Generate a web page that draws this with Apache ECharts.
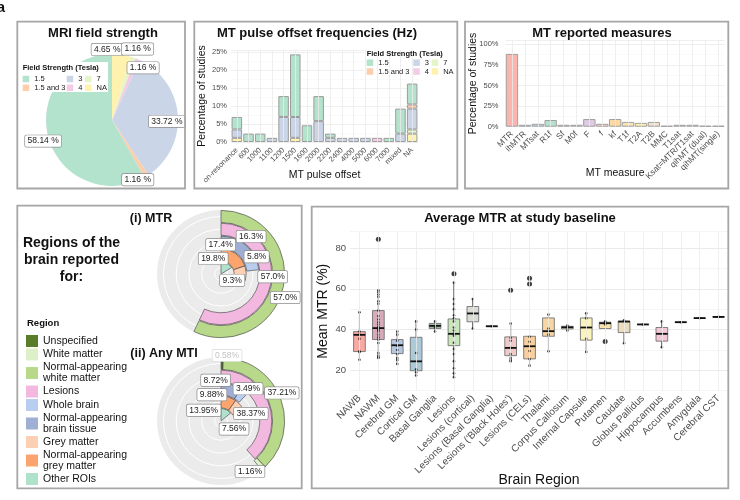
<!DOCTYPE html>
<html>
<head>
<meta charset="utf-8">
<title>MT imaging review</title>
<script src="https://cdn.jsdelivr.net/npm/echarts@6.0.0/dist/echarts.min.js"></script>
<style>
  html, body { margin: 0; padding: 0; background: #fff; }
  #chart { width: 740px; height: 500px; }
</style>
</head>
<body>
<div id="chart"></div>
<script>
var FONT = '"Liberation Sans", Arial, Helvetica, sans-serif';

// ---- A: MRI field strength, % of studies (clockwise from 12 o'clock)
var fieldNames = ['NA', '7', '4', '3', '1.5 and 3', '1.5'];
var fieldShare = [4.65, 1.16, 1.16, 33.72, 1.16, 58.14];

// ---- B: MT pulse offset (Hz), % of studies by field strength
var offsetCats = ['on-resonance', '600', '1000', '1100', '1200', '1500', '1600', '2000',
                  '2200', '2400', '4000', '5000', '6000', '7000', 'mixed', 'NA'];
var off15      = [3.49, 2.33, 2.33, 0, 5.81, 17.44, 4.65, 6.98, 1.16, 0, 0, 0, 0, 1.16, 6.98, 5.81];
var off15and3  = [0, 0, 0, 0, 0, 0, 0, 0, 0, 0, 0, 0, 0, 0, 0, 1.16];
var off3       = [2.33, 0, 0, 1.16, 6.98, 5.81, 0, 5.81, 1.16, 1.16, 1.16, 1.16, 0, 0, 2.33, 5.81];
var off4       = [0, 0, 0, 0, 0, 0, 0, 0, 0, 0, 0, 0, 1.16, 0, 0, 0];
var off7       = [0, 0, 0, 0, 0, 0, 0, 0, 0, 0, 0, 0, 0, 0, 0, 1.16];
var offNA      = [1.16, 0, 0, 0, 0, 1.16, 0, 0, 0, 0, 0, 0, 0, 0, 0, 2.33];

// ---- C: MT reported measures, % of studies
var measureCats = ['MTR', 'ihMTR', 'MTsat', 'R1f', 'Sf', 'M0f', 'F', 'f', 'kf', 'T1f', 'T2A', 'T2B',
                   'MMC', 'T1sat', 'Ksat=MTR/T1sat', 'qihMT (dual)', 'qihMT(single)'];
var measureShare = [88.37, 2.33, 3.49, 8.14, 2.33, 2.33, 9.30, 3.49, 9.30, 5.81, 4.65, 5.81,
                    1.16, 2.33, 2.33, 1.16, 1.16];

// ---- D: regions of the brain reported, % of studies
var regionNames = ['Unspecified', 'White matter', 'Normal-appearing white matter', 'Lesions',
                   'Whole brain', 'Normal-appearing brain tissue', 'Grey matter',
                   'Normal-appearing grey matter', 'Other ROIs'];
var ringCats = ['Other ROIs', 'Grey', 'Brain', 'Lesions', 'White'];   // inner -> outer
var regionRing = [4, 4, 4, 3, 2, 2, 1, 1, 0];
var mtrShare    = [0, 0, 57.0, 57.0, 5.8, 17.4, 9.3, 19.8, 16.3];
var anyMtiShare = [0.58, 1.16, 37.21, 38.37, 3.49, 8.72, 7.56, 9.88, 13.95];

// ---- E: average MTR at study baseline
var brainCats = ['NAWB', 'NAWM', 'Cerebral GM', 'Cortical GM', 'Basal Ganglia', 'Lesions',
                 'Lesions (cortical)', 'Lesions (Basal Ganglia)', "Lesions ('Black Holes')",
                 'Lesions (CELs)', 'Thalami', 'Corpus Callosum', 'Internal Capsule', 'Putamen',
                 'Caudate', 'Globus Pallidus', 'Hippocampus', 'Accumbens', 'Amygdala', 'Cerebral CST'];
var whiskerLow  = [25.2, 26.1, 23.1, 17.4, 38.9, 16.6, 40.3, 41.6, 24.4, 22.3, 29.3, 39.0, 29.0, 40.5, 33.3, 42.5, 31.3, 43.6, 45.6, 46.2];
var boxQ1       = [29.2, 35.1, 28.2, 19.8, 40.5, 32.1, 43.8, 41.6, 27.2, 25.6, 36.7, 40.3, 34.8, 40.5, 38.5, 42.5, 34.3, 43.6, 45.6, 46.2];
var boxMedian   = [37.4, 40.7, 32.3, 24.4, 41.8, 37.9, 47.9, 41.6, 31.0, 31.8, 39.2, 41.1, 41.0, 43.1, 43.9, 42.5, 37.9, 43.6, 45.6, 46.2];
var boxQ3       = [39.0, 49.3, 35.1, 36.2, 43.0, 45.2, 51.3, 41.6, 36.4, 36.7, 45.7, 41.6, 45.7, 43.6, 44.1, 42.5, 41.0, 43.6, 45.6, 46.2];
var whiskerHigh = [48.9, 59.3, 39.2, 44.6, 44.4, 63.3, 55.2, 41.6, 43.3, 37.0, 47.4, 42.1, 48.4, 44.1, 44.6, 42.5, 44.1, 43.6, 45.6, 46.2];
var mtrPoints = [
  [48.5, 39.0, 37.5, 35.5, 29.3, 29.0, 25.2],
  [59.3, 58.4, 57.2, 56.1, 53.9, 52.6, 49.3, 46.6, 44.9, 43.6, 42.5, 41.3, 40.8, 40.3, 39.7, 38.9, 37.5, 36.2, 35.1, 33.4, 28.5, 27.2, 26.4, 26.1],
  [39.0, 37.5, 34.5, 32.0, 30.0, 28.0, 26.0, 25.0, 23.1],
  [44.0, 40.0, 28.5, 20.5, 19.0, 17.4],
  [44.0, 41.0, 39.0],
  [63.0, 55.0, 52.5, 50.0, 47.0, 45.5, 44.0, 41.0, 39.5, 38.0, 37.0, 33.5, 30.5, 28.0, 24.5, 21.0, 18.5, 16.6],
  [55.0, 40.5],
  [41.6],
  [43.0, 36.0, 34.5, 31.0, 28.0, 26.0, 25.0, 24.4],
  [36.5, 34.0, 29.5, 25.5, 22.3],
  [47.4, 40.5, 37.5, 29.3],
  [42.0, 41.0, 39.5],
  [48.0, 45.5, 35.5, 29.0],
  [44.0, 43.5, 42.5],
  [44.5, 33.3],
  [42.5],
  [44.0, 31.3],
  [43.6],
  [45.6],
  [46.2]
];
var mtrOutliers = [['NAWM', 84.3], ['Lesions', 67.4], ["Lesions ('Black Holes')", 59.3],
                   ['Lesions (CELs)', 65.2], ['Lesions (CELs)', 62.3], ['Putamen', 34.1]];

// ---- styles
var fieldColors = {'1.5': '#b3e2cd', '1.5 and 3': '#fdcdac', '3': '#cbd5e8',
                   '4': '#f4cae4', '7': '#e6f5c9', 'NA': '#fff2ae'};
var measureColors = ['#fbb4ae', '#e3d3e6', '#c5d6ea', '#b3e2cd', '#d6ecc8', '#e0dbe8', '#decbe4', '#fcd3c3',
                     '#fed9a6', '#fde4b3', '#fff2ae', '#f1e2cc', '#eeeeee', '#f4d3e3', '#f6dbe4', '#e3e3e3', '#dddddd'];
var regionColors = ['#5a7d2c', '#def0c8', '#b8d98a', '#f3b8df', '#b9cdf1', '#9eaed4', '#fdd0b3', '#fba46e', '#b0e2cb'];
var brainColors = ['#f7aaa3', '#d9a9b9', '#b6c6dc', '#a9cad6', '#a3b8a0', '#c9e7bb', '#d9ddd6', '#cccccc', '#f0c9c9', '#f8cfa0',
                   '#f9d5a2', '#f3ecd0', '#fbf3b9', '#f9e3ad', '#eadcbc', '#dddddd', '#f3c7d5', '#dddddd', '#dddddd', '#dddddd'];
var stackOrder = [0, 2, 1, 3, 5, 4, 7, 6, 8];   // clockwise order inside each ring
var pieNudge = [[-10, -35], [14, -37], [17, -19], [19, 4], [7, 29], [-34, 12]];
var mtrNudge = [[0, 0], [0, 0], [8, 11], [8, -7], [5, -8], [-17, -2], [-8, 7], [-19, 0], [27, -32]];
var anyMtiNudge = [[5, -8], [-9.5, 7.5], [7, -7.5], [-12, 8.5], [7.5, -7], [-14, -10], [-1.5, 20.5], [-15, -8], [-20, -5]];

var GRID_LINE = '#ebebeb';
var labelBox = {fontFamily: FONT, fontSize: 8.5, color: '#222', backgroundColor: '#fff',
                borderColor: '#8a8a8a', borderWidth: 0.7, borderRadius: 1.5, padding: [1.5, 2.5, 1, 2.5]};

function nz(arr) {
  return arr.map(function (v) { return v > 0 ? v : '-'; });
}

function txt(s, x, y, size, bold, align, extra) {
  var style = {text: s, fontFamily: FONT, fontSize: size, fontWeight: bold ? 'bold' : 'normal',
               fill: '#111', align: align || 'center', verticalAlign: 'middle',
               textAlign: align || 'center', textVerticalAlign: 'middle'};
  for (var k in (extra || {})) style[k] = extra[k];
  return {type: 'text', x: x, y: y, z: 20, style: style, silent: true};
}

function box(x, y, w, h) {
  return {type: 'rect', shape: {x: x, y: y, width: w, height: h}, z: 20, silent: true,
          style: {fill: 'none', stroke: '#a6a6a6', lineWidth: 1.8}};
}

function fieldLegend(names, left, top, z) {
  return {data: names, orient: 'vertical', left: left, top: top, itemWidth: 6.5, itemHeight: 6.5,
          itemGap: 0.8, padding: 0, icon: 'rect', selectedMode: false, z: z,
          itemStyle: {borderWidth: 0},
          textStyle: {fontFamily: FONT, fontSize: 7.5, lineHeight: 7.5, color: '#222'}};
}

function vGrid(axisIndex, cats) {
  return {type: 'line', xAxisIndex: axisIndex, yAxisIndex: axisIndex, data: [], z: 1, silent: true,
          markLine: {silent: true, symbol: 'none', label: {show: false}, animation: false,
                     lineStyle: {color: GRID_LINE, width: 0.8, type: 'solid'},
                     data: cats.map(function (c) { return {xAxis: c}; })}};
}

function catAxis(gi, cats, fs, margin, name, gap) {
  return {gridIndex: gi, type: 'category', data: cats, boundaryGap: true,
          axisLine: {show: false}, axisTick: {show: false}, splitLine: {show: false},
          axisLabel: {rotate: 45, interval: 0, fontSize: fs, color: '#4d4d4d', margin: margin, fontFamily: FONT},
          name: name, nameLocation: 'middle', nameGap: gap, nameMoveOverlap: false,
          nameTextStyle: {fontSize: gi === 2 ? 14 : 10.5, color: '#111', fontFamily: FONT}};
}

function valAxis(gi, min, max, interval, step, fmt, name, gap, fs, margin, colors) {
  return {gridIndex: gi, type: 'value', min: min, max: max, interval: interval,
          axisLine: {show: false}, axisTick: {show: false},
          axisLabel: {fontSize: fs, color: '#4d4d4d', margin: margin, fontFamily: FONT,
                      formatter: function (v) { return v % step === 0 ? fmt(v) : ''; }},
          splitLine: {lineStyle: {color: colors || GRID_LINE, width: 0.8}},
          minorTick: {show: false, splitNumber: 2},
          minorSplitLine: {show: !colors, lineStyle: {color: '#f4f4f4', width: 0.5}},
          name: name, nameLocation: 'middle', nameGap: gap, nameMoveOverlap: false,
          nameTextStyle: {fontSize: gi === 2 ? 14 : 10.5, color: '#111', fontFamily: FONT}};
}

function regionSeries(share, polarIndex, stack, digits, nudge) {
  return stackOrder.map(function (r) {
    var data = ringCats.map(function (c, k) {
      return (k === regionRing[r] && share[r] > 0) ? share[r] : '-';
    });
    var lbl = {show: true, position: 'middle', rotate: 0,
               formatter: function (p) { return p.value.toFixed(digits) + '%'; }};
    for (var k in labelBox) lbl[k] = labelBox[k];
    if (r === 0) { lbl.color = '#c4c4c4'; lbl.borderColor = '#d8d8d8'; }
    return {type: 'bar', coordinateSystem: 'polar', polarIndex: polarIndex, stack: stack,
            name: regionNames[r], data: data, barCategoryGap: '6%', z: 3,
            itemStyle: {color: regionColors[r], borderColor: '#3d3d3d', borderWidth: 0.6},
            label: lbl, labelLayout: {dx: nudge[r][0], dy: nudge[r][1], rotate: 0}};
  });
}

function renderBox(params, api) {
  var i = api.value(0);
  var lo = api.coord([i, api.value(1)]);
  var b1 = api.coord([i, api.value(2)]);
  var md = api.coord([i, api.value(3)]);
  var b3 = api.coord([i, api.value(4)]);
  var hi = api.coord([i, api.value(5)]);
  var w = api.size([1, 0])[0] * 0.62;
  var x = lo[0];
  return {type: 'group', children: [
    {type: 'line', shape: {x1: x, y1: hi[1], x2: x, y2: lo[1]}, style: {stroke: '#333', lineWidth: 1}},
    {type: 'rect', shape: {x: x - w / 2, y: b3[1], width: w, height: b1[1] - b3[1]},
     style: {fill: brainColors[params.dataIndex], stroke: '#666', lineWidth: 0.8}},
    {type: 'line', shape: {x1: x - w / 2, y1: md[1], x2: x + w / 2, y2: md[1]}, style: {stroke: '#111', lineWidth: 1.8}}
  ]};
}

// ---------- series ----------
var series = [];

var pieLabel = {show: true, position: 'inside', formatter: function (p) { return p.value.toFixed(2) + ' %'; }};
for (var k in labelBox) pieLabel[k] = labelBox[k];
series.push({
  type: 'pie', name: 'Field strength', center: [112, 120], radius: 66, startAngle: 90, clockwise: true,
  avoidLabelOverlap: false, z: 2,
  data: fieldNames.map(function (n, i) { return {name: n, value: fieldShare[i], itemStyle: {color: fieldColors[n]}}; }),
  label: pieLabel, labelLine: {show: false},
  labelLayout: function (p) { var n = pieNudge[p.dataIndex]; return {dx: n[0], dy: n[1]}; }
});

var offsetStack = [['NA', offNA], ['7', off7], ['4', off4], ['3', off3], ['1.5 and 3', off15and3], ['1.5', off15]];
offsetStack.forEach(function (s) {
  series.push({type: 'bar', name: s[0], xAxisIndex: 0, yAxisIndex: 0, stack: 'fs', data: nz(s[1]),
               barCategoryGap: '10%', z: 2,
               itemStyle: {color: fieldColors[s[0]], borderColor: '#9c9c9c', borderWidth: 1}});
});
series.push(vGrid(0, offsetCats));

series.push({type: 'bar', name: 'measures', xAxisIndex: 1, yAxisIndex: 1, barCategoryGap: '4%', z: 2,
             data: measureShare.map(function (v, i) {
               return {value: v, itemStyle: {color: measureColors[i], borderColor: '#a0a0a0', borderWidth: 1}};
             })});
series.push(vGrid(1, measureCats));

series = series.concat(regionSeries(mtrShare, 0, 'mtr', 1, mtrNudge));
series = series.concat(regionSeries(anyMtiShare, 1, 'mti', 2, anyMtiNudge));

series.push(vGrid(2, brainCats));
series.push({type: 'custom', xAxisIndex: 2, yAxisIndex: 2, z: 3, renderItem: renderBox,
             encode: {x: 0, y: [1, 2, 3, 4, 5]},
             data: brainCats.map(function (c, i) {
               return [i, whiskerLow[i], boxQ1[i], boxMedian[i], boxQ3[i], whiskerHigh[i]];
             })});
var pts = [];
mtrPoints.forEach(function (arr, i) { arr.forEach(function (v) { pts.push([i, v]); }); });
series.push({type: 'scatter', xAxisIndex: 2, yAxisIndex: 2, z: 4, data: pts, symbolSize: 2.6,
             itemStyle: {color: '#111'}});
series.push({type: 'scatter', xAxisIndex: 2, yAxisIndex: 2, z: 4, symbolSize: 5, itemStyle: {color: '#111'},
             data: mtrOutliers.map(function (o) { return [brainCats.indexOf(o[0]), o[1]]; })});

// ---------- polar backgrounds (grey disc, white rings at ring centres) ----------
function bgRadius(pi) {
  return {polarIndex: pi, type: 'value', min: 0, max: 5, interval: 1,
          axisLine: {show: false}, axisTick: {show: false}, axisLabel: {show: false},
          splitLine: {show: false}, splitArea: {show: true, areaStyle: {color: ['#ebebeb']}},
          minorTick: {show: false, splitNumber: 2},
          minorSplitLine: {show: true, lineStyle: {color: '#ffffff', width: 1}}};
}
function hiddenAngle(pi, type) {
  return {polarIndex: pi, type: type, min: 0, max: 100, startAngle: 90, clockwise: true,
          axisLine: {show: false}, axisTick: {show: false}, axisLabel: {show: false},
          splitLine: {show: false}};
}

var pieGraphics = [
  {type: 'rect', shape: {x: 20, y: 62, width: 88, height: 30}, z: 5, silent: true, style: {fill: '#fff'}},
  {type: 'rect', shape: {x: 364, y: 48, width: 92, height: 28}, z: 5, silent: true, style: {fill: '#fff'}}
];

var option = {
  animation: false,
  textStyle: {fontFamily: FONT},
  grid: [
    {left: 231, top: 50.1, width: 187, height: 91.9, outerBoundsMode: 'none'},
    {left: 505.5, top: 40.2, width: 219.3, height: 86.5, outerBoundsMode: 'none'},
    {left: 350, top: 231.7, width: 378, height: 159, outerBoundsMode: 'none'}
  ],
  xAxis: [
    catAxis(0, offsetCats, 7.5, 7, 'MT pulse offset', 28),
    catAxis(1, measureCats, 8.5, 6, 'MT measure', 41),
    catAxis(2, brainCats, 10, 6, 'Brain Region', 82)
  ],
  yAxis: [
    valAxis(0, 0, 25.6, 5, 5, function (v) { return v + '%'; }, 'Percentage of studies', 23, 7.5, 4),
    valAxis(1, 0, 105, 25, 25, function (v) { return v + '%'; }, 'Percentage of studies', 27, 7.5, 7),
    valAxis(2, 10, 88, 10, 20, function (v) { return v; }, 'Mean MTR (%)', 20, 9.5, 4, ['#f3f3f3', '#e6e6e6'])
  ],
  polar: [
    {center: [221, 274], radius: 64},
    {center: [221, 421], radius: 64},
    {center: [221, 274], radius: 64},
    {center: [221, 421], radius: 64}
  ],
  angleAxis: [hiddenAngle(0, 'value'), hiddenAngle(1, 'value'), hiddenAngle(2, 'value'), hiddenAngle(3, 'value')],
  radiusAxis: [
    {polarIndex: 0, type: 'category', data: ringCats, show: false},
    {polarIndex: 1, type: 'category', data: ringCats, show: false},
    bgRadius(2), bgRadius(3)
  ],
  legend: [
    fieldLegend(['1.5', '1.5 and 3'], 22.7, 75, 10),
    fieldLegend(['3', '4'], 66.7, 75, 10),
    fieldLegend(['7', 'NA'], 85, 75, 10),
    fieldLegend(['1.5', '1.5 and 3'], 366.7, 58.7, 10),
    fieldLegend(['3', '4'], 413.3, 58.7, 10),
    fieldLegend(['7', 'NA'], 431.7, 58.7, 10),
    {data: regionNames, orient: 'vertical', left: 26, top: 335, itemWidth: 12, itemHeight: 12,
     itemGap: 1.5, padding: 0, icon: 'rect', selectedMode: false, z: 10,
     itemStyle: {borderWidth: 0},
     formatter: function (n) { return n.replace('Normal-appearing ', 'Normal-appearing\n'); },
     textStyle: {fontFamily: FONT, fontSize: 10.5, lineHeight: 11, color: '#111'}}
  ],
  graphic: {elements: pieGraphics.concat([
    box(17.3, 21.7, 167.7, 166.8),
    box(194.3, 21.7, 263, 166.8),
    box(465, 21.7, 263.3, 166.8),
    box(17.3, 205.7, 284.4, 282.6),
    box(311.7, 206.7, 416.6, 281.6),
    txt('a', 1, 8, 15, true, 'center'),
    txt('MRI field strength', 103, 33, 13, true),
    txt('MT pulse offset frequencies (Hz)', 317, 33, 13, true),
    txt('MT reported measures', 602, 33.5, 13, true),
    txt('Field Strength (Tesla)', 22.7, 68.3, 7.5, true, 'left'),
    txt('Field Strength (Tesla)', 366.7, 53.5, 7.5, true, 'left'),
    txt('(i) MTR', 151, 219, 12.5, true),
    txt('(ii) Any MTI', 164, 354, 12.5, true),
    txt('Regions of the\nbrain reported\nfor:', 71.5, 260, 14, true, 'center', {lineHeight: 17}),
    txt('Region', 27, 323, 9.5, true, 'left'),
    txt('Average MTR at study baseline', 520, 218, 13, true)
  ])},
  series: series
};

var chart = echarts.init(document.getElementById('chart'));
chart.setOption(option);
</script>
</body>
</html>
